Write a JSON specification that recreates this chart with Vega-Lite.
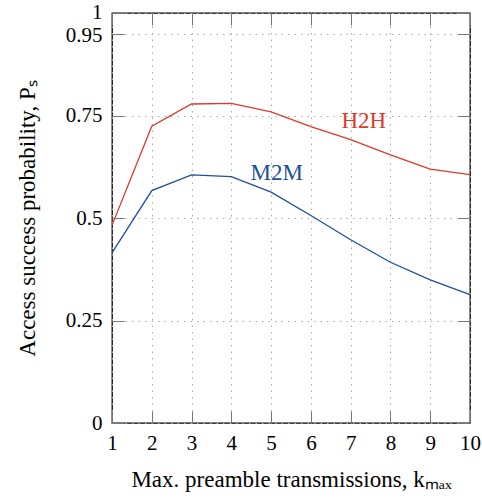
{
  "$schema": "https://vega.github.io/schema/vega-lite/v6.json",
  "width": 358,
  "height": 410,
  "autosize": {"type": "none"},
  "padding": {"left": 112, "top": 13, "right": 12, "bottom": 75},
  "background": "white",
  "config": {
    "view": {"stroke": "black", "strokeWidth": 1.3},
    "font": "Liberation Serif",
    "axis": {
      "labelFont": "Liberation Serif",
      "titleFont": "Liberation Serif",
      "labelFontSize": 21,
      "titleFontSize": 23,
      "labelColor": "black",
      "titleColor": "black",
      "titleFontWeight": "normal",
      "labelFlush": false,
      "labelOverlap": false,
      "gridColor": "#aaaaaa",
      "gridDash": [1.5, 5],
      "gridWidth": 1,
      "tickColor": "#777777",
      "tickSize": -12,
      "tickWidth": 1,
      "domain": false
    }
  },
  "datasets": {
    "curves": [
      {"k": 1, "series": "H2H", "p": 0.482},
      {"k": 2, "series": "H2H", "p": 0.724},
      {"k": 3, "series": "H2H", "p": 0.778},
      {"k": 4, "series": "H2H", "p": 0.7795},
      {"k": 5, "series": "H2H", "p": 0.759},
      {"k": 6, "series": "H2H", "p": 0.723},
      {"k": 7, "series": "H2H", "p": 0.691},
      {"k": 8, "series": "H2H", "p": 0.654},
      {"k": 9, "series": "H2H", "p": 0.619},
      {"k": 10, "series": "H2H", "p": 0.606},
      {"k": 1, "series": "M2M", "p": 0.415},
      {"k": 2, "series": "M2M", "p": 0.567},
      {"k": 3, "series": "M2M", "p": 0.605},
      {"k": 4, "series": "M2M", "p": 0.601},
      {"k": 5, "series": "M2M", "p": 0.563},
      {"k": 6, "series": "M2M", "p": 0.506},
      {"k": 7, "series": "M2M", "p": 0.447},
      {"k": 8, "series": "M2M", "p": 0.392},
      {"k": 9, "series": "M2M", "p": 0.349},
      {"k": 10, "series": "M2M", "p": 0.313}
    ],
    "labels": [
      {"k": 7.33, "p": 0.7185, "series": "H2H"},
      {"k": 5.14, "p": 0.592, "series": "M2M"}
    ]
  },
  "layer": [
    {
      "data": {"name": "curves"},
      "mark": {"type": "line", "strokeWidth": 1.3},
      "encoding": {
        "x": {
          "field": "k", "type": "quantitative",
          "scale": {"domain": [1, 10], "nice": false, "zero": false},
          "axis": {
            "orient": "bottom",
            "values": [1, 2, 3, 4, 5, 6, 7, 8, 9, 10],
            "title": "Max. preamble transmissions, kₘₐₓ",
            "labelPadding": 21,
            "titlePadding": 15
          }
        },
        "y": {
          "field": "p", "type": "quantitative",
          "scale": {"domain": [0, 1], "nice": false},
          "axis": {
            "orient": "left",
            "values": [0, 0.25, 0.5, 0.75, 0.95, 1],
            "format": ".2~f",
            "labelBaseline": "middle",
            "labelOffset": {"expr": "datum.value == 1 ? -1 : (datum.value == 0.95 ? 2 : 0)"},
            "title": "Access success probability, Pₛ",
            "labelPadding": 22,
            "titlePadding": 26
          }
        },
        "color": {
          "field": "series", "type": "nominal",
          "scale": {"domain": ["H2H", "M2M"], "range": ["#dc3a2c", "#1c4f9c"]},
          "legend": null
        }
      }
    },
    {
      "data": {"name": "labels"},
      "mark": {"type": "text", "font": "Liberation Serif", "fontSize": 23, "align": "center", "baseline": "alphabetic"},
      "encoding": {
        "x": {
          "field": "k", "type": "quantitative",
          "axis": {"orient": "top", "values": [1, 2, 3, 4, 5, 6, 7, 8, 9, 10], "labels": false, "title": null, "grid": false}
        },
        "y": {
          "field": "p", "type": "quantitative",
          "axis": {"orient": "right", "values": [0, 0.25, 0.5, 0.75, 0.95, 1], "labels": false, "title": null, "grid": false}
        },
        "text": {"field": "series"},
        "color": {"field": "series", "type": "nominal", "legend": null}
      }
    }
  ],
  "resolve": {"axis": {"x": "independent", "y": "independent"}}
}
